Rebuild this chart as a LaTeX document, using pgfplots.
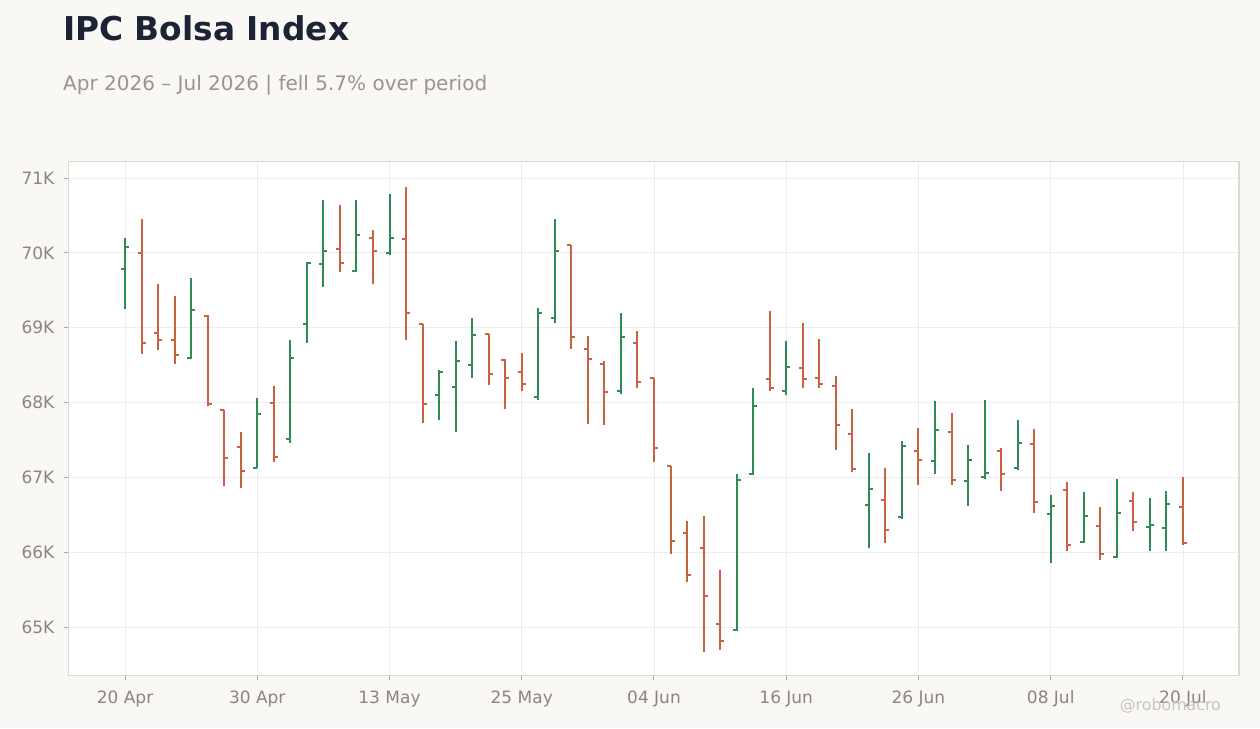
\documentclass[border=0pt]{standalone}
\usepackage{fontspec}
\setmainfont{DejaVu Sans}
\usepackage{pgfplots}
\usepackage{pgfplotstable}
\pgfplotsset{compat=1.18}

\definecolor{bgc}{HTML}{F9F8F5}
\definecolor{titlec}{HTML}{1B2335}
\definecolor{subc}{HTML}{9A948E}
\definecolor{tickc}{HTML}{8A8580}
\definecolor{borderc}{HTML}{DDD8D0}
\definecolor{gridc}{HTML}{EDEDED}
\definecolor{upc}{HTML}{2E8B57}
\definecolor{downc}{HTML}{C9623F}
\definecolor{markc}{HTML}{C8C4BF}

% open tick to the left, close tick to the right
\pgfdeclareplotmark{openl}{%
  \pgfpathmoveto{\pgfqpoint{-\pgfplotmarksize}{0pt}}%
  \pgfpathlineto{\pgfqpoint{0pt}{0pt}}%
  \pgfusepathqstroke}
\pgfdeclareplotmark{closer}{%
  \pgfpathmoveto{\pgfqpoint{0pt}{0pt}}%
  \pgfpathlineto{\pgfqpoint{\pgfplotmarksize}{0pt}}%
  \pgfusepathqstroke}

% trading day index, open, high, low, close (thousands)
\pgfplotstableread{
x  o     h     l     c
0  69.78 70.20 69.25 70.08
4  68.60 69.66 68.58 69.23
8  67.12 68.06 67.12 67.85
10 67.51 68.83 67.46 68.59
11 69.05 69.88 68.80 69.86
12 69.85 70.71 69.54 70.02
14 69.76 70.71 69.75 70.24
16 70.00 70.78 69.97 70.20
19 68.10 68.44 67.76 68.41
20 68.21 68.82 67.60 68.55
21 68.50 69.13 68.33 68.90
25 68.08 69.26 68.03 69.20
26 69.13 70.45 69.06 70.02
30 68.15 69.20 68.12 68.88
37 64.96 67.05 64.95 66.97
38 67.04 68.20 67.03 67.95
40 68.15 68.82 68.10 68.48
45 66.63 67.33 66.06 66.85
47 66.47 67.48 66.45 67.42
49 67.22 68.02 67.05 67.63
51 66.95 67.43 66.62 67.23
52 67.00 68.04 66.98 67.06
54 67.12 67.77 67.10 67.46
56 66.51 66.76 65.86 66.62
58 66.14 66.80 66.13 66.49
60 65.94 66.98 65.92 66.52
62 66.34 66.72 66.01 66.36
63 66.32 66.82 66.01 66.65
}\upbars

\pgfplotstableread{
x  o     h     l     c
1  70.00 70.45 68.65 68.80
2  68.93 69.58 68.70 68.83
3  68.83 69.42 68.52 68.63
5  69.15 69.17 67.95 67.98
6  67.90 67.90 66.88 67.26
7  67.41 67.60 66.86 67.09
9  67.99 68.22 67.20 67.27
13 70.05 70.64 69.74 69.86
15 70.20 70.30 69.58 70.03
17 70.19 70.88 68.83 69.20
18 69.05 69.05 67.73 67.98
22 68.92 68.92 68.24 68.38
23 68.57 68.58 67.91 68.33
24 68.41 68.66 68.15 68.25
27 70.10 70.10 68.72 68.87
28 68.71 68.89 67.71 68.58
29 68.52 68.55 67.70 68.14
31 68.80 68.95 68.19 68.28
32 68.33 68.33 67.20 67.39
33 67.15 67.15 65.97 66.15
34 66.26 66.42 65.60 65.70
35 66.06 66.48 64.67 65.41
36 65.04 65.76 64.69 64.82
39 68.32 69.22 68.15 68.20
41 68.46 69.06 68.20 68.32
42 68.33 68.85 68.20 68.25
43 68.22 68.35 67.37 67.70
44 67.58 67.92 67.07 67.11
46 66.70 67.12 66.12 66.29
48 67.35 67.66 66.90 67.23
50 67.60 67.86 66.90 66.96
53 67.35 67.39 66.82 67.05
55 67.45 67.65 66.52 66.67
57 66.83 66.94 66.02 66.10
59 66.35 66.60 65.89 65.98
61 66.68 66.81 66.28 66.40
64 66.60 67.00 66.10 66.12
}\downbars

\begin{document}
\begin{tikzpicture}
\fill[bgc] (0,0) rectangle (1260pt,728pt);
\useasboundingbox (0,0) rectangle (1260pt,728pt);

\node[anchor=base west, inner sep=0pt, text=titlec,
  font=\fontsize{32.8}{38}\selectfont\bfseries] at (63pt,687pt) {IPC Bolsa Index};
\node[anchor=base west, inner sep=0pt, text=subc,
  font=\fontsize{20}{24}\selectfont] at (63pt,637pt)
  {Apr 2026 – Jul 2026 | fell 5.7\% over period};

\begin{axis}[
  at={(69pt,53pt)}, anchor=south west,
  scale only axis, width=1170pt, height=513pt,
  xmin=-3.39, xmax=67.39,
  ymin=64.359, ymax=71.214,
  axis background/.style={fill=white},
  axis line style={draw=borderc, line width=1pt},
  xtick={0,8,...,64},
  xticklabels={20 Apr,30 Apr,13 May,25 May,04 Jun,16 Jun,26 Jun,08 Jul,20 Jul},
  ytick={65,66,67,68,69,70,71},
  yticklabels={65K,66K,67K,68K,69K,70K,71K},
  xtick pos=bottom, ytick pos=left,
  tick align=outside, major tick length=5pt,
  major tick style={draw=tickc!70, line width=1pt},
  xmajorgrids, ymajorgrids,
  grid style={draw=gridc, line width=0.8pt},
  tick label style={text=tickc, font=\fontsize{17}{20}\selectfont},
  xticklabel style={anchor=base, yshift=-23.5pt},
  yticklabel style={anchor=east, inner sep=0pt, xshift=-9.5pt},
  mark size=4pt,
]
\addplot[only marks, mark=openl, color=upc, line width=2pt,
  error bars/.cd, y dir=both, y explicit, error mark=none,
  error bar style={draw=upc, line width=2pt}]
  table[x=x, y=o, y error plus expr=\thisrow{h}-\thisrow{o},
        y error minus expr=\thisrow{o}-\thisrow{l}] {\upbars};
\addplot[only marks, mark=closer, color=upc, line width=2pt]
  table[x=x, y=c] {\upbars};

\addplot[only marks, mark=openl, color=downc, line width=2pt,
  error bars/.cd, y dir=both, y explicit, error mark=none,
  error bar style={draw=downc, line width=2pt}]
  table[x=x, y=o, y error plus expr=\thisrow{h}-\thisrow{o},
        y error minus expr=\thisrow{o}-\thisrow{l}] {\downbars};
\addplot[only marks, mark=closer, color=downc, line width=2pt]
  table[x=x, y=c] {\downbars};
\end{axis}

\node[anchor=base east, inner sep=0pt, text=markc,
  font=\fontsize{15.8}{19}\selectfont] at (1221pt,18pt) {@robomacro};
\end{tikzpicture}
\end{document}
